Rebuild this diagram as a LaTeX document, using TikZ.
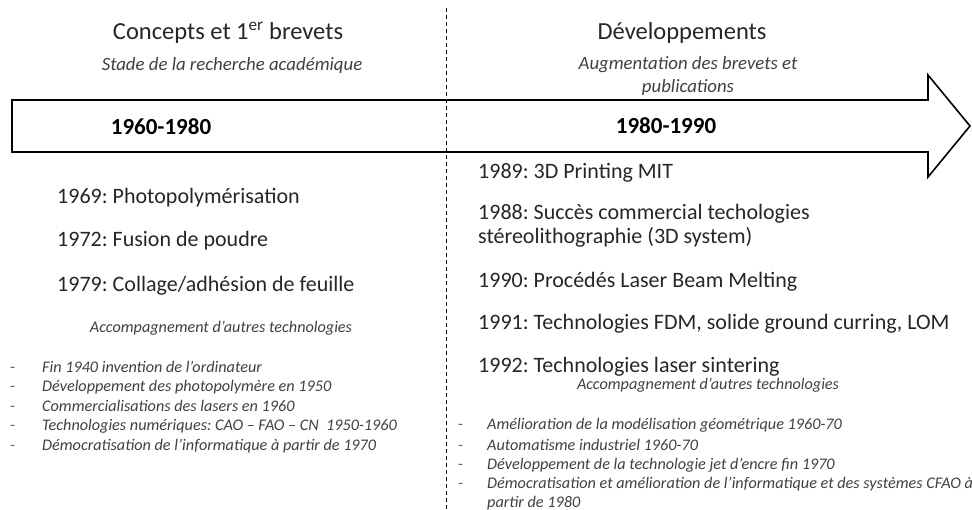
\documentclass[tikz,border=0pt]{standalone}
\usepackage{fontspec}
\setmainfont{Carlito}
\frenchspacing
\definecolor{txt}{HTML}{262626}
\definecolor{itx}{HTML}{404040}
\begin{document}
\begin{tikzpicture}[x=1pt,y=-1pt,
  title/.style={font=\fontsize{24.5}{29}\selectfont, text=txt, anchor=center, inner sep=0pt},
  sub/.style={font=\fontsize{18.8}{23}\selectfont\itshape, text=itx, anchor=center, inner sep=0pt, align=center},
  period/.style={font=\fontsize{23}{27}\selectfont\bfseries, text=black, anchor=center, inner sep=0pt},
  event/.style={font=\fontsize{22}{24.5}\selectfont, text=txt, anchor=base west, inner sep=0pt, align=left},
  acc/.style={font=\fontsize{16.2}{19}\selectfont\itshape, text=itx, anchor=base, inner sep=0pt},
  item/.style={font=\fontsize{16.2}{19}\selectfont\itshape, text=itx, anchor=base west, inner sep=0pt},
  bulletdash/.style={font=\fontsize{16.2}{19}\selectfont, text=itx!80, anchor=base west, inner sep=0pt},
  arrowshape/.style={draw=black, line width=1.6pt, line join=miter},
  divider/.style={draw=black, line width=0.9pt, dash pattern=on 4pt off 3pt}
]
\useasboundingbox (0,0) rectangle (972,510);
% big arrow
\draw[arrowshape] (12,100) -- (928,100) -- (928,75) -- (970,126) -- (928,177) -- (928,152) -- (12,152) -- cycle;
% divider
\coordinate (dtop) at (446,8);
\coordinate (dbot) at (446,510);
\draw[divider] (dtop) -- (dbot);
% headings
\node[title] (t1) at (228,33) {Concepts et 1\textsuperscript{er} brevets};
\node[sub] (s1) at (232,65) {Stade de la recherche académique};
\node[title] (t2) at (682,33) {Développements};
\node[sub] (s2) at (688,76) {Augmentation des brevets et\\publications};
\node[period] (p1) at (161,127) {1960-1980};
\node[period] (p2) at (666,126) {1980-1990};
% left events
\node[event] (e1) at (57,204) {1969: Photopolymérisation};
\node[event] (e2) at (57,247) {1972: Fusion de poudre};
\node[event] (e3) at (57,292) {1979: Collage/adhésion de feuille};
\node[acc] (a1) at (221,333) {Accompagnement d’autres technologies};
\foreach \y/\t [count=\i] in {373/Fin 1940 invention de l’ordinateur,
  392/Développement des photopolymère en 1950,
  411.5/Commercialisations des lasers en 1960,
  431/{Technologies numériques: CAO – FAO – CN\ \ 1950-1960},
  450/Démocratisation de l’informatique à partir de 1970}{
  \node[bulletdash] (ld\i) at (10,\y) {-};
  \node[item] (li\i) at (42,\y) {\t};
}
% right events
\node[event] (r1) at (478,179) {1989: 3D Printing MIT};
\node[event] (r2) at (478,244) {1988: Succès commercial techologies\\stéreolithographie (3D system)};
\node[event] (r3) at (478,288) {1990: Procédés Laser Beam Melting};
\node[event] (r4) at (478,330) {1991: Technologies FDM, solide ground curring, LOM};
\node[event] (r5) at (478,373) {1992: Technologies laser sintering};
\node[acc] (a2) at (708,390) {Accompagnement d’autres technologies};
\foreach \y/\t [count=\i] in {430/Amélioration de la modélisation géométrique 1960-70,
  450/Automatisme industriel 1960-70,
  469/Développement de la technologie jet d’encre fin 1970,
  488/Démocratisation et amélioration de l’informatique et des systèmes CFAO à}{
  \node[bulletdash] (rd\i) at (458,\y) {-};
  \node[item] (ri\i) at (487,\y) {\t};
}
\node[item] (ri5) at (487,507) {partir de 1980};
\end{tikzpicture}
\end{document}
